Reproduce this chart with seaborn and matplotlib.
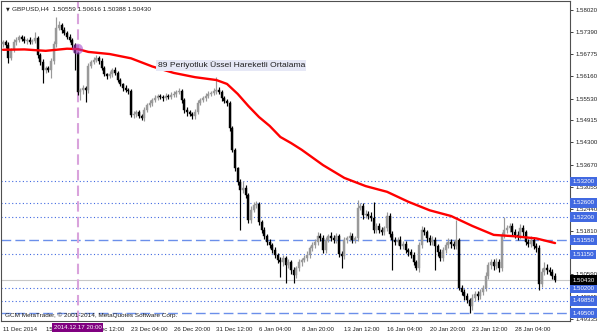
import numpy as np
import pandas as pd
import matplotlib
matplotlib.use("Agg")
import matplotlib.pyplot as plt
import matplotlib.transforms as mtransforms
import seaborn as sns

# ---------------- data ----------------
first_open = 1.5706
closes = [
    1.5712, 1.5704, 1.5667, 1.5690, 1.5712, 1.5718, 1.5726, 1.5721, 1.5715, 1.5718,
    1.5712, 1.5715, 1.5723, 1.5676, 1.5656, 1.5633, 1.5639, 1.5633, 1.5659, 1.5706,
    1.5751, 1.5760, 1.5746, 1.5737, 1.5726, 1.5718, 1.5704, 1.5681, 1.5572, 1.5577,
    1.5583, 1.5577, 1.5645, 1.5656, 1.5662, 1.5667, 1.5659, 1.5639, 1.5622, 1.5617,
    1.5622, 1.5633, 1.5625, 1.5605, 1.5594, 1.5583, 1.5577, 1.5574, 1.5507, 1.5510,
    1.5515, 1.5504, 1.5499, 1.5521, 1.5535, 1.5541, 1.5549, 1.5555, 1.5560, 1.5558,
    1.5555, 1.5560, 1.5558, 1.5563, 1.5566, 1.5572, 1.5574, 1.5549, 1.5521, 1.5515,
    1.5510, 1.5504, 1.5515, 1.5541, 1.5549, 1.5555, 1.5560, 1.5566, 1.5569, 1.5574,
    1.5577, 1.5572, 1.5555, 1.5546, 1.5541, 1.5470, 1.5409, 1.5358, 1.5319, 1.5296,
    1.5302, 1.5282, 1.5212, 1.5240, 1.5254, 1.5257, 1.5206, 1.5184, 1.5167, 1.5150,
    1.5142, 1.5128, 1.5114, 1.5100, 1.5094, 1.5105, 1.5085, 1.5094, 1.5071, 1.5057,
    1.5077, 1.5094, 1.5100, 1.5105, 1.5114, 1.5133, 1.5142, 1.5150, 1.5167, 1.5161,
    1.5128, 1.5156, 1.5167, 1.5161, 1.5156, 1.5167, 1.5116, 1.5111, 1.5156, 1.5161,
    1.5167, 1.5156, 1.5161, 1.5246, 1.5251, 1.5226, 1.5229, 1.5223, 1.5218, 1.5184,
    1.5195, 1.5184, 1.5178, 1.5189, 1.5223, 1.5173, 1.5156, 1.5150, 1.5156, 1.5139,
    1.5145, 1.5128, 1.5122, 1.5114, 1.5094, 1.5077, 1.5142, 1.5184, 1.5178, 1.5161,
    1.5150, 1.5156, 1.5139, 1.5122, 1.5105, 1.5128, 1.5142, 1.5150, 1.5145, 1.5139,
    1.5156, 1.5021, 1.5010, 1.4998, 1.4987, 1.4970, 1.4993, 1.5004, 1.4998, 1.5010,
    1.5021, 1.5055, 1.5085, 1.5094, 1.5083, 1.5094, 1.5077, 1.5170, 1.5184, 1.5189,
    1.5195, 1.5178, 1.5170, 1.5167, 1.5189, 1.5178, 1.5150, 1.5145, 1.5156, 1.5139,
    1.5133, 1.5032, 1.5066, 1.5077, 1.5071, 1.5066, 1.5055, 1.5043,
]
up_wick_pips = [
    6, 5, 8, 4, 7, 9, 6, 5, 8, 6,
    7, 5, 17, 6, 4, 8, 6, 5, 7, 9,
    31, 10, 6, 8, 5, 7, 6, 5, 4, 6,
    7, 5, 8, 6, 9, 7, 5, 8, 6, 4,
    7, 6, 8, 5, 6, 4, 7, 6, 5, 9,
    7, 6, 5, 8, 6, 7, 5, 8, 6, 7,
    5, 8, 6, 7, 9, 6, 8, 5, 6, 7,
    5, 6, 8, 7, 6, 5, 8, 7, 6, 9,
    36, 8, 6, 5, 7, 4, 5, 6, 4, 9,
    20, 7, 6, 12, 8, 9, 5, 6, 7, 5,
    8, 6, 7, 5, 8, 9, 6, 7, 5, 8,
    7, 9, 6, 8, 10, 7, 9, 8, 11, 7,
    8, 9, 6, 10, 8, 7, 6, 8, 9, 7,
    10, 8, 7, 22, 9, 8, 10, 7, 12, 45,
    8, 9, 7, 6, 10, 8, 7, 9, 8, 10,
    7, 8, 6, 9, 7, 6, 8, 12, 9, 7,
    8, 10, 7, 6, 9, 8, 7, 10, 8, 9,
    56, 6, 8, 7, 9, 6, 10, 8, 7, 9,
    8, 10, 9, 7, 8, 10, 7, 9, 36, 10,
    8, 7, 9, 10, 12, 8, 7, 9, 10, 8,
    7, 9, 12, 17, 10, 8, 9, 7,
]
down_wick_pips = [
    7, 9, 14, 6, 5, 8, 6, 7, 5, 8,
    6, 7, 5, 9, 8, 36, 7, 6, 22, 8,
    7, 6, 8, 5, 7, 6, 9, 48, 8, 22,
    10, 34, 8, 6, 7, 5, 8, 6, 7, 9,
    6, 8, 7, 5, 6, 9, 7, 8, 6, 10,
    8, 7, 6, 9, 7, 6, 8, 5, 7, 6,
    8, 6, 7, 5, 6, 8, 7, 9, 8, 10,
    7, 9, 8, 6, 7, 5, 8, 6, 7, 6,
    8, 7, 9, 6, 8, 7, 6, 8, 9, 112,
    8, 9, 8, 10, 7, 9, 8, 10, 9, 8,
    10, 8, 9, 10, 42, 12, 50, 9, 10, 22,
    9, 8, 10, 7, 9, 8, 7, 10, 8, 9,
    10, 8, 7, 9, 8, 10, 9, 34, 8, 9,
    7, 10, 8, 9, 7, 10, 8, 9, 10, 8,
    9, 10, 8, 9, 7, 10, 84, 9, 8, 10,
    9, 8, 10, 9, 8, 6, 10, 9, 8, 10,
    9, 8, 67, 10, 9, 8, 10, 9, 11, 8,
    9, 6, 10, 12, 9, 20, 10, 8, 11, 9,
    10, 8, 9, 10, 12, 9, 11, 8, 10, 9,
    10, 8, 9, 10, 8, 11, 9, 10, 8, 9,
    10, 17, 9, 8, 10, 9, 8, 4,
]
ma_bars = [0, 8, 16, 24, 28, 32, 40, 48, 56, 64, 72, 80, 84, 88, 92, 96, 100, 104,
           108, 112, 120, 128, 136, 144, 152, 160, 168, 176, 184, 192, 200, 207]
ma_values = [1.5690, 1.5691, 1.5687, 1.5693, 1.5692, 1.5684, 1.5678, 1.5666, 1.5643,
             1.5625, 1.5613, 1.5605, 1.5594, 1.5566, 1.5532, 1.5501, 1.5476, 1.5445,
             1.5428, 1.5409, 1.5366, 1.5330, 1.5307, 1.5291, 1.5263, 1.5239, 1.5223,
             1.5195, 1.5170, 1.5166, 1.5160, 1.5147]
x_label_bars = [0, 16, 32, 48, 64, 80, 96, 112, 128, 144, 160, 176, 192]
x_labels = ["11 Dec 2014", "15 Dec 20:00", "18 Dec 12:00", "23 Dec 04:00",
            "26 Dec 20:00", "31 Dec 12:00", "6 Jan 04:00", "8 Jan 20:00",
            "13 Jan 12:00", "16 Jan 04:00", "20 Jan 20:00", "23 Jan 12:00",
            "28 Jan 04:00"]
y_ticks = [1.58020, 1.57390, 1.56775, 1.56160, 1.55530, 1.54915, 1.54300, 1.53670,
           1.53055, 1.52440, 1.51810, 1.50590, 1.49965, 1.49335]
dotted_levels = [1.53200, 1.52600, 1.52200, 1.51150, 1.50200, 1.49850]
dashed_levels = [1.51550, 1.49500]
bid_price = 1.50430
marker_bar = 28
marker_label = "2014.12.17 20:00"
title_text = "GBPUSD,H4  1.50559 1.50616 1.50388 1.50430"
ma_label = "89 Periyotluk Üssel Hareketli Ortalama"
copyright_text = "GCM MetaTrader, © 2001-2014, MetaQuotes Software Corp."

# ---------------- build table ----------------
df = pd.DataFrame({"close": closes})
df["bar"] = np.arange(len(df))
df["open"] = [first_open] + closes[:-1]
df["high"] = df[["open", "close"]].max(axis=1) + np.array(up_wick_pips) / 10000
df["low"] = df[["open", "close"]].min(axis=1) - np.array(down_wick_pips) / 10000
df["bull"] = df["close"] >= df["open"]
ma_df = pd.DataFrame({"bar": ma_bars, "ma": ma_values})

# ---------------- style ----------------
sns.set_style("white")
plt.rcParams["font.family"] = ["Liberation Sans", "DejaVu Sans"]

fig = plt.figure(figsize=(6, 3.33), dpi=100)
ax = fig.add_axes([1 / 600, 12 / 333, 569 / 600, 320 / 333])

BULL = "#999999"
BEAR = "#000000"
cols = np.where(df["bull"], BULL, BEAR)

# wicks and bodies
ax.vlines(df["bar"], df["low"], df["high"], colors=cols, lw=0.85, zorder=3)
body_h = (df["close"] - df["open"]).abs().clip(lower=0.00005)
ax.bar(df["bar"], body_h, bottom=df[["open", "close"]].min(axis=1), width=0.72,
       color=cols, edgecolor=cols, linewidth=0.3, zorder=4)

# horizontal levels
for lv in dotted_levels:
    ax.axhline(lv, color="#4169E1", lw=0.8, ls=(0, (1, 2.2)), zorder=2)
for lv in dashed_levels:
    ax.axhline(lv, color="#6b8fea", lw=1.0, ls=(0, (7, 3)), zorder=2)
ax.axhline(bid_price, color="#c8c8c8", lw=0.8, zorder=1)

# vertical marker line
ax.axvline(marker_bar, color="#d9a3dc", lw=1.5, ls=(0, (5, 2.5)), zorder=2)

# moving average
sns.lineplot(data=ma_df, x="bar", y="ma", ax=ax, color="#ff0000", lw=1.7, zorder=5)
ma_at_marker = ma_values[ma_bars.index(marker_bar)]
ax.scatter([marker_bar], [ma_at_marker], s=60, color="#a040c8", alpha=0.55,
           edgecolors="none", zorder=6)

# limits
ax.set_xlim(-0.75, 212.6)
ax.set_ylim(1.49281, 1.58270)
ax.set_xlabel("")
ax.set_ylabel("")

# spines
for s in ax.spines.values():
    s.set_color("#505050")
    s.set_linewidth(0.8)

# ticks
ax.yaxis.tick_right()
ax.set_yticks(y_ticks)
ax.set_yticklabels([f"{v:.5f}" for v in y_ticks])
ax.tick_params(axis="y", direction="out", length=2.5, width=0.6, pad=1.2,
               labelsize=4.4, colors="#202020", right=True, left=False)
ax.set_xticks(x_label_bars)
ax.set_xticklabels(x_labels, ha="left")
ax.tick_params(axis="x", direction="out", length=2.5, width=0.6, pad=1.5,
               labelsize=4.4, colors="#202020")

# right-side boxed labels
trans_r = mtransforms.blended_transform_factory(ax.transAxes, ax.transData)
for lv in dotted_levels + dashed_levels:
    ax.text(1.004, lv, f"{lv:.5f}", transform=trans_r, ha="left", va="center",
            fontsize=4.4, color="white", clip_on=False, zorder=10,
            bbox=dict(boxstyle="square,pad=0.4", fc="#4169E1", ec="none"))
ax.text(1.004, bid_price, f"{bid_price:.5f}", transform=trans_r, ha="left",
        va="center", fontsize=4.4, color="white", clip_on=False, zorder=11,
        bbox=dict(boxstyle="square,pad=0.4", fc="#000000", ec="none"))

# bottom marker label
trans_b = mtransforms.blended_transform_factory(ax.transData, ax.transAxes)
ax.text(marker_bar, -0.012, marker_label, transform=trans_b, ha="center", va="top",
        fontsize=4.4, color="white", clip_on=False, zorder=11,
        bbox=dict(boxstyle="square,pad=0.3", fc="#800080", ec="none"))

# texts
ax.text(0.008, 0.975, "\u25BC", transform=ax.transAxes, fontsize=3.5,
        color="#202020", va="center", ha="left", family=["DejaVu Sans"])
ax.text(0.02, 0.975, title_text, transform=ax.transAxes, fontsize=4.6,
        color="#202020", va="center", ha="left")
ax.text(58, 1.5646, ma_label, fontsize=6.1, color="#202020", va="center",
        ha="left", zorder=7,
        bbox=dict(boxstyle="square,pad=0.15", fc="#e6e8f6", ec="none"))
ax.text(0.007, 0.017, copyright_text, transform=ax.transAxes, fontsize=4.6,
        color="#202020", va="center", ha="left", zorder=7)

fig.savefig("out.png", dpi=100)
